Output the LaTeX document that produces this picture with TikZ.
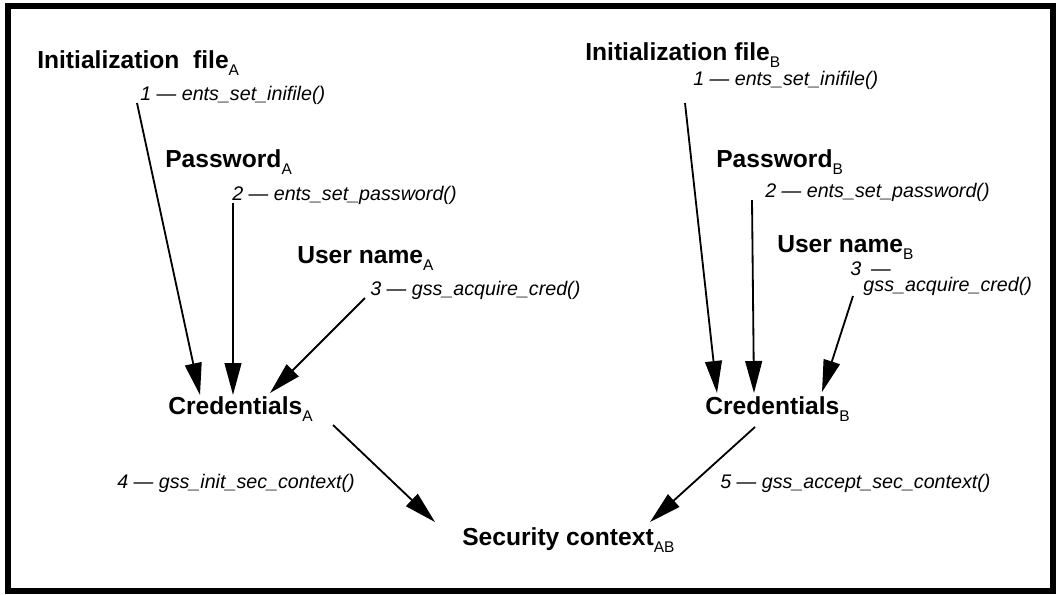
\documentclass[tikz,border=0pt]{standalone}
\usepackage{fontspec}
\setmainfont{Liberation Sans}
\usetikzlibrary{arrows.meta}
\newcommand\lowsub[1]{\raisebox{-5pt}{\mdseries\fontsize{11}{11}\selectfont #1}}

\begin{document}
\begin{tikzpicture}[x=0.025cm, y=-0.025cm,
   item/.style = {inner sep=0pt, anchor=base west, font=\bfseries\fontsize{17.5}{20}\selectfont},
   call/.style = {inner sep=0pt, anchor=base west, font=\itshape\fontsize{14}{16}\selectfont},
   feed/.style = {line width=1.3pt, -{Triangle[length=0.8cm, width=0.42cm]}}]
   \useasboundingbox (0,0) rectangle (1057,594);
   \draw[line width=0.15cm] (8,6) rectangle (1053,591);
   % side A
   \node[item] (ini_A)  at (37,68)   {Initialization\ \ file\lowsub{A}};
   \node[call] (lab_1A) at (140,100) {1 — ents\_set\_inifile()};
   \node[item] (pw_A)   at (165,167) {Password\lowsub{A}};
   \node[call] (lab_2A) at (232,200) {2 — ents\_set\_password()};
   \node[item] (usr_A)  at (297,263) {User name\lowsub{A}};
   \node[call] (lab_3A) at (370,295) {3 — gss\_acquire\_cred()};
   \node[item] (cred_A) at (168,414) {Credentials\lowsub{A}};
   \node[call] (lab_4A) at (117,488) {4 — gss\_init\_sec\_context()};
   % side B
   \node[item] (ini_B)  at (585,60)  {Initialization file\lowsub{B}};
   \node[call] (lab_1B) at (693,85)  {1 — ents\_set\_inifile()};
   \node[item] (pw_B)   at (716,167) {Password\lowsub{B}};
   \node[call] (lab_2B) at (765,197) {2 — ents\_set\_password()};
   \node[item] (usr_B)  at (777,252) {User name\lowsub{B}};
   \node[call, anchor=north west, align=left, font=\itshape\fontsize{14}{12}\selectfont]
      (lab_3B) at (850,261) {3\enspace—\\\hspace*{0.33cm}gss\_acquire\_cred()};
   \node[item] (cred_B) at (705,414) {Credentials\lowsub{B}};
   \node[call] (lab_5B) at (720,488) {5 — gss\_accept\_sec\_context()};
   % shared context
   \node[item] (sec) at (462,545) {Security context\lowsub{AB}};

   \draw[feed] ([shift={(-3,3)}]lab_1A.base west) -- ([shift={(32,-19)}]cred_A.base west);
   \draw[feed] ([shift={(1,3)}]lab_2A.base west) -- ([shift={(65,-19)}]cred_A.base west);
   \draw[feed] ([shift={(-5,3)}]lab_3A.base west) -- ([shift={(102,-21)}]cred_A.base west);
   \draw[feed] ([shift={(165,11)}]cred_A.base west) -- ([shift={(-27,-23)}]sec.base west);
   \draw[feed] ([shift={(-8,18)}]lab_1B.base west) -- ([shift={(12,-21)}]cred_B.base west);
   \draw[feed] ([shift={(-13,3)}]lab_2B.base west) -- ([shift={(49,-21)}]cred_B.base west);
   \draw[feed] ([shift={(3,35)}]lab_3B.north west) -- ([shift={(117,-22)}]cred_B.base west);
   \draw[feed] ([shift={(50,13)}]cred_B.base west) -- ([shift={(188,-23)}]sec.base west);
\end{tikzpicture}
\end{document}
